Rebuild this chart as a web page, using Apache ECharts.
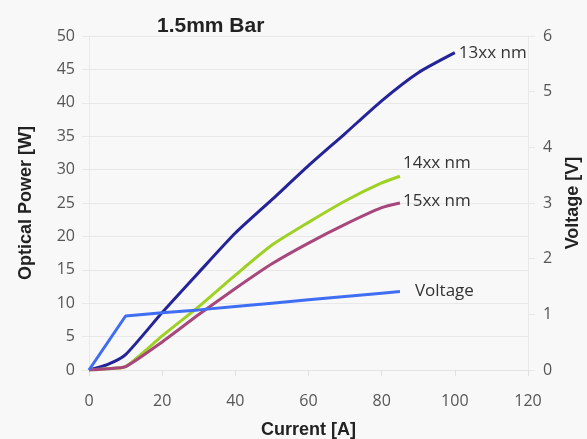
<!DOCTYPE html>
<html>
<head>
<meta charset="utf-8">
<script src="https://cdn.jsdelivr.net/npm/echarts@6/dist/echarts.min.js"></script>
<style>
  html, body { margin: 0; padding: 0; background: #f8f8f8; }
  #chart { width: 587px; height: 439px; }
</style>
</head>
<body>
<div id="chart"></div>
<script>
// current [A]
const current13 = [0, 5, 10, 20, 30, 40, 50, 60, 70, 80, 90, 100];
const power13 = [0, 0.8, 2.3, 8.6, 14.6, 20.5, 25.5, 30.6, 35.4, 40.3, 44.5, 47.5];

const currentBar = [0, 5, 10, 20, 30, 40, 50, 60, 70, 80, 85];
const power14 = [0, 0.2, 0.5, 5.1, 9.5, 14.2, 18.7, 22.1, 25.3, 28.0, 29.0];
const power15 = [0, 0.2, 0.5, 4.2, 8.3, 12.2, 15.9, 19.0, 21.8, 24.3, 25.0];

const currentV = [0, 10, 20, 30, 40, 50, 60, 70, 80, 85];
const voltage = [0, 0.97, 1.03, 1.08, 1.14, 1.2, 1.26, 1.32, 1.38, 1.41];

function pairs(xs, ys) {
  return xs.map((x, i) => [x, ys[i]]);
}

const tickFont = { color: '#555', fontSize: 16, fontFamily: 'Open Sans' };
const nameFont = { color: '#222', fontSize: 18, fontWeight: 'bold', fontFamily: 'Liberation Sans' };
const endFont = { color: '#333', fontSize: 17, fontFamily: 'Open Sans' };

const chart = echarts.init(document.getElementById('chart'));
chart.setOption({
  backgroundColor: '#f8f8f8',
  animation: false,
  title: {
    text: '1.5mm Bar',
    left: 152,
    top: 11,
    textStyle: { color: '#222', fontSize: 21, fontWeight: 'bold', fontFamily: 'Liberation Sans' }
  },
  grid: { left: 89, right: 59, top: 36, bottom: 69, containLabel: false, outerBoundsMode: 'none' },
  xAxis: {
    type: 'value',
    min: 0, max: 120, interval: 20,
    name: 'Current [A]',
    nameLocation: 'middle',
    nameGap: 51,
    nameTextStyle: nameFont,
    axisLine: { show: true, lineStyle: { color: '#e4e4e4' } },
    axisTick: { show: true, length: 6, lineStyle: { color: '#e0e0e0' } },
    axisLabel: Object.assign({ margin: 23 }, tickFont),
    splitLine: { show: false }
  },
  yAxis: [
    {
      type: 'value',
      min: 0, max: 50, interval: 5,
      name: 'Optical Power [W]',
      nameLocation: 'middle',
      nameRotate: 90,
      nameGap: 54,
      nameTextStyle: nameFont,
      axisLine: { show: true, lineStyle: { color: '#e8e8e8' } },
      axisTick: { show: true, length: 7, lineStyle: { color: '#e8e8e8' } },
      axisLabel: Object.assign({ margin: 14 }, tickFont),
      splitLine: { show: true, lineStyle: { color: '#e8e8e8' } }
    },
    {
      type: 'value',
      min: 0, max: 6, interval: 1,
      position: 'right',
      name: 'Voltage [V]',
      nameLocation: 'middle',
      nameRotate: 90,
      nameGap: 36,
      nameTextStyle: nameFont,
      axisLine: { show: true, lineStyle: { color: '#e8e8e8' } },
      axisTick: { show: true, length: 7, lineStyle: { color: '#e8e8e8' } },
      axisLabel: Object.assign({ margin: 15 }, tickFont),
      splitLine: { show: false }
    }
  ],
  series: [
    {
      name: '13xx nm', type: 'line', yAxisIndex: 0,
      data: pairs(current13, power13),
      smooth: 0.2, showSymbol: false,
      lineStyle: { color: '#25239a', width: 3 },
      endLabel: { show: true, formatter: '13xx nm', distance: 4, ...endFont }
    },
    {
      name: '14xx nm', type: 'line', yAxisIndex: 0,
      data: pairs(currentBar, power14),
      smooth: 0.2, showSymbol: false,
      lineStyle: { color: '#9fd124', width: 3 },
      endLabel: { show: true, formatter: '14xx nm', distance: 3, offset: [0, -13], ...endFont }
    },
    {
      name: '15xx nm', type: 'line', yAxisIndex: 0,
      data: pairs(currentBar, power15),
      smooth: 0.2, showSymbol: false,
      lineStyle: { color: '#a8477c', width: 3 },
      endLabel: { show: true, formatter: '15xx nm', distance: 3, offset: [0, -2], ...endFont }
    },
    {
      name: 'Voltage', type: 'line', yAxisIndex: 1,
      data: pairs(currentV, voltage),
      showSymbol: false,
      lineStyle: { color: '#3f6ef4', width: 3 },
      endLabel: { show: true, formatter: 'Voltage', distance: 15, ...endFont }
    }
  ]
});
</script>
</body>
</html>
